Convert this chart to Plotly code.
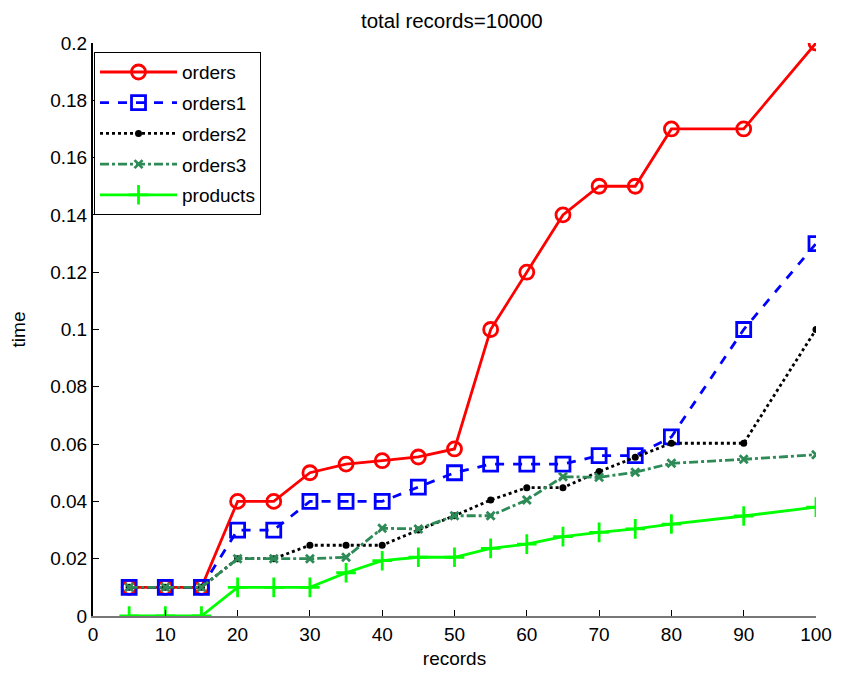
import plotly.graph_objects as go

records = [5, 10, 15, 20, 25, 30, 35, 40, 45, 50, 55, 60, 65, 70, 75, 80, 90, 100]
orders = [0.01, 0.01, 0.01, 0.04, 0.04, 0.05, 0.053, 0.0542, 0.0555, 0.0583, 0.10, 0.12, 0.14, 0.15, 0.15, 0.17, 0.17, 0.20]
orders1 = [0.01, 0.01, 0.01, 0.03, 0.03, 0.04, 0.04, 0.04, 0.045, 0.05, 0.053, 0.053, 0.053, 0.056, 0.056, 0.0625, 0.10, 0.13]
orders2 = [0.01, 0.01, 0.01, 0.02, 0.02, 0.0247, 0.0247, 0.0247, 0.030, 0.035, 0.0405, 0.0448, 0.0448, 0.0504, 0.0554, 0.0603, 0.0603, 0.10]
orders3 = [0.01, 0.01, 0.01, 0.02, 0.02, 0.02, 0.0205, 0.0306, 0.0304, 0.035, 0.035, 0.0405, 0.0486, 0.0484, 0.0502, 0.0533, 0.0547, 0.0563]
products = [0.0, 0.0, 0.0, 0.01, 0.01, 0.01, 0.0151, 0.0193, 0.0205, 0.0205, 0.0236, 0.0251, 0.0277, 0.0292, 0.0304, 0.0321, 0.0349, 0.038]

x_ticks = [0, 10, 20, 30, 40, 50, 60, 70, 80, 90, 100]
y_ticks = [0, 0.02, 0.04, 0.06, 0.08, 0.1, 0.12, 0.14, 0.16, 0.18, 0.2]
y_tick_labels = ["0", "0.02", "0.04", "0.06", "0.08", "0.1", "0.12", "0.14", "0.16", "0.18", "0.2"]

FONT = "Liberation Sans, Arial, sans-serif"

fig = go.Figure()
fig.add_trace(go.Scatter(x=records, y=orders, name="orders", legendgroup="a", mode="lines+markers",
                         line=dict(color="#ff0000", width=2.8),
                         marker=dict(symbol="circle-open", size=14, color="#ff0000", line=dict(width=2.8))))
fig.add_trace(go.Scatter(x=records, y=orders1, name="orders1", legendgroup="b", mode="lines+markers",
                         line=dict(color="#0000ff", width=2.8, dash="dash"),
                         marker=dict(symbol="square-open", size=14, color="#0000ff", line=dict(width=2.8))))
fig.add_trace(go.Scatter(x=records, y=orders2, name="orders2", legendgroup="c", mode="lines+markers",
                         line=dict(color="#000000", width=2.8, dash="dot"),
                         marker=dict(symbol="circle", size=7, color="#000000")))
fig.add_trace(go.Scatter(x=records, y=orders3, name="orders3", legendgroup="d", mode="lines+markers",
                         line=dict(color="#2e8b57", width=2.8, dash="dashdot"),
                         marker=dict(symbol="x-thin-open", size=8, color="#2e8b57", line=dict(width=2.8, color="#2e8b57"))))
fig.add_trace(go.Scatter(x=records, y=products, name="products", legendgroup="e", mode="lines+markers",
                         line=dict(color="#00ff00", width=2.8),
                         marker=dict(symbol="cross-thin-open", size=14, color="#00ff00", line=dict(width=2.8, color="#00ff00"))))

fig.update_layout(
    width=825, height=661,
    margin=dict(l=85, r=17, t=35, b=53),
    paper_bgcolor="white", plot_bgcolor="white",
    font=dict(family=FONT, size=19, color="black"),
    title=dict(text="total records=10000", x=0.538, xanchor="center", y=0.98, yanchor="middle",
               font=dict(family=FONT, size=20.5, color="black")),
    xaxis=dict(range=[0, 100], tickvals=x_ticks, ticks="inside", ticklen=6, tickcolor="black",
               showline=True, linecolor="#777777", linewidth=2, showgrid=False, zeroline=False,
               ticklabeloverflow="allow", automargin=False,
               title=dict(text="records", font=dict(family=FONT, size=19), standoff=12)),
    yaxis=dict(range=[0, 0.2], tickvals=y_ticks, ticktext=y_tick_labels, ticks="inside", ticklen=6,
               tickcolor="black", showline=True, linecolor="black", linewidth=2, showgrid=False,
               zeroline=False, automargin=False,
               title=dict(text="time", font=dict(family=FONT, size=19), standoff=20)),
    legend=dict(x=0.0014, y=0.984, xanchor="left", yanchor="top", bgcolor="white",
                bordercolor="black", borderwidth=1, font=dict(family=FONT, size=19), tracegroupgap=3,
                itemwidth=77),
)

fig.write_html("out.html")
